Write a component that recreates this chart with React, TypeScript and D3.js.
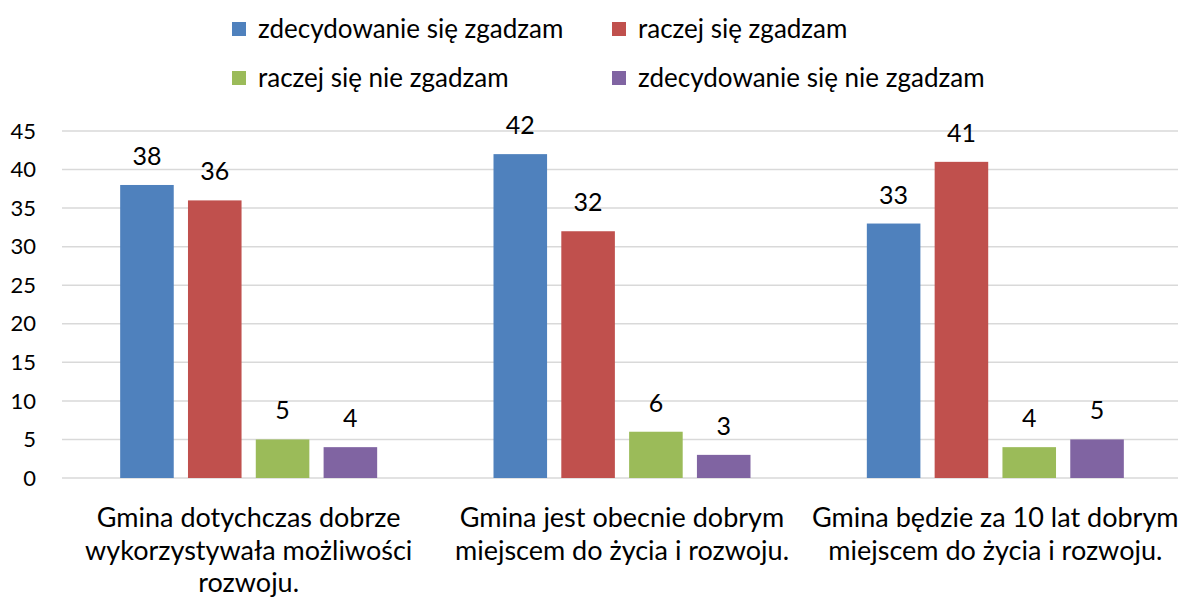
import React from "react";
import * as d3 from "d3";

const categories = [
  ["Gmina dotychczas dobrze", "wykorzystywała możliwości", "rozwoju."],
  ["Gmina jest obecnie dobrym", "miejscem do życia i rozwoju."],
  ["Gmina będzie za 10 lat dobrym", "miejscem do życia i rozwoju."],
];
const seriesNames = [
  "zdecydowanie się zgadzam",
  "raczej się zgadzam",
  "raczej się nie zgadzam",
  "zdecydowanie się nie zgadzam",
];
const seriesColors = ["#4F81BD", "#C0504D", "#9BBB59", "#8064A2"];
const values = [
  [38, 42, 33],
  [36, 32, 41],
  [5, 6, 4],
  [4, 3, 5],
];
const yTicks = [0, 5, 10, 15, 20, 25, 30, 35, 40, 45];

const W = 1183;
const H = 599;
const font = "Lato, 'Open Sans', sans-serif";

export default function App() {
  const left = 62, right = 1182, top = 131, bottom = 478;
  const y = d3.scaleLinear().domain([0, 45]).range([bottom, top]);
  const x0 = d3.scaleBand().domain(categories.map((_, i) => String(i))).range([left, right]);
  const groupW = 257;
  const x1 = d3.scaleBand().domain(seriesNames.map((_, i) => String(i))).range([0, groupW]).paddingInner(0.21);

  const legendPos = [
    [232, 29], [612, 29], [232, 78], [612, 78],
  ];

  return (
    <svg width={W} height={H} style={{ position: "absolute", left: 0, top: 0, background: "#fff" }}>
      {yTicks.map((t) => (
        <g key={t}>
          <line x1={left} x2={right - 4} y1={y(t)} y2={y(t)} stroke="#D9D9D9" strokeWidth={1.5} />
          <text x={36} y={y(t)} dy="0.35em" textAnchor="end" fontFamily={font} fontSize={22} fill="#000">{t}</text>
        </g>
      ))}
      {categories.map((c, ci) => {
        const cx = x0(String(ci))! + x0.bandwidth() / 2;
        const gx = cx - groupW / 2;
        return (
          <g key={ci}>
            {seriesNames.map((_, si) => {
              const v = values[si][ci];
              const bx = gx + x1(String(si))!;
              return (
                <g key={si}>
                  <rect x={bx} y={y(v)} width={x1.bandwidth()} height={bottom - y(v)} fill={seriesColors[si]} />
                  <text x={bx + x1.bandwidth() / 2} y={y(v) - 20} textAnchor="middle" fontFamily={font} fontSize={25} fill="#000">{v}</text>
                </g>
              );
            })}
            {c.map((line, li) => (
              <text key={li} x={cx} y={527 + li * 32.5} textAnchor="middle" fontFamily={font} fontSize={27} fill="#000">{line}</text>
            ))}
          </g>
        );
      })}
      {seriesNames.map((s, si) => (
        <g key={s}>
          <rect x={legendPos[si][0]} y={legendPos[si][1] - 7} width={14} height={14} fill={seriesColors[si]} />
          <text x={legendPos[si][0] + 26} y={legendPos[si][1]} dy="0.35em" fontFamily={font} fontSize={26} fill="#000">{s}</text>
        </g>
      ))}
    </svg>
  );
}
